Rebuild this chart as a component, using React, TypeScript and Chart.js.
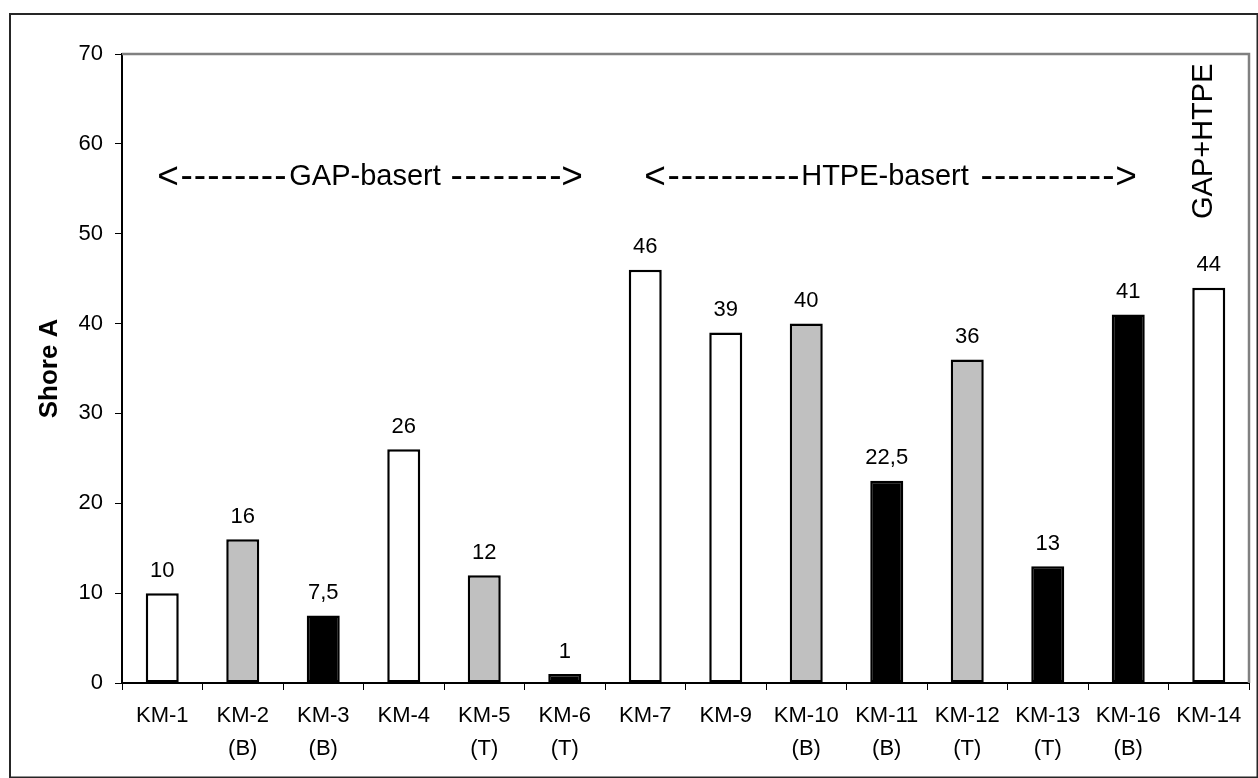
import React, { useEffect, useRef } from 'react';
import { Chart, registerables } from 'chart.js';

Chart.register(...registerables);

const categories: string[][] = [
  ['KM-1'], ['KM-2', '(B)'], ['KM-3', '(B)'], ['KM-4'], ['KM-5', '(T)'], ['KM-6', '(T)'],
  ['KM-7'], ['KM-9'], ['KM-10', '(B)'], ['KM-11', '(B)'], ['KM-12', '(T)'], ['KM-13', '(T)'],
  ['KM-16', '(B)'], ['KM-14'],
];
const shoreValues: number[] = [10, 16, 7.5, 26, 12, 1, 46, 39, 40, 22.5, 36, 13, 41, 44];
const valueLabels: string[] = ['10', '16', '7,5', '26', '12', '1', '46', '39', '40', '22,5', '36', '13', '41', '44'];
const barKinds: string[] = ['open', 'grey', 'solid', 'open', 'grey', 'solid', 'open', 'open', 'grey', 'solid', 'grey', 'solid', 'solid', 'open'];
const yTickValues: number[] = [0, 10, 20, 30, 40, 50, 60, 70];
const groupLabelGap = ['<', '--------', 'GAP-basert', '--------', '>'];
const groupLabelHtpe = ['<', '----------', 'HTPE-basert', '----------', '>'];
const sideLabel = 'GAP+HTPE';
const yTitle = 'Shore A';

const FONT = "'Liberation Sans', Arial, Helvetica, sans-serif";
const kindColor: Record<string, string> = { open: '#FFFFFF', grey: '#C0C0C0', solid: '#000000' };

export default function App() {
  const ref = useRef<HTMLCanvasElement | null>(null);

  useEffect(() => {
    const canvas = ref.current;
    if (!canvas) return;

    const bgPlugin = {
      id: 'bg',
      beforeDraw(chart: any) {
        const ctx = chart.ctx;
        ctx.save();
        ctx.fillStyle = '#FFFFFF';
        ctx.fillRect(0, 0, chart.width, chart.height);
        ctx.restore();
      },
    };

    const drawPieces = (ctx: any, pieces: string[], spans: number[][], baseline: number) => {
      pieces.forEach((txt, i) => {
        const [x0, x1] = spans[i];
        ctx.letterSpacing = '0px';
        if (/^-+$/.test(txt)) {
          ctx.font = `37px ${FONT}`;
          const adv = ctx.measureText('-').width;
          const ink = adv * 0.74;
          const n = txt.length;
          const sp = (x1 - x0 - ink) / (n - 1) - adv;
          ctx.letterSpacing = sp + 'px';
          ctx.textAlign = 'left';
          ctx.fillText(txt, x0 - adv * 0.13, baseline + 1.5);
          ctx.letterSpacing = '0px';
        } else if (txt === '<' || txt === '>') {
          ctx.font = `37px ${FONT}`;
          ctx.textAlign = 'center';
          ctx.fillText(txt, (x0 + x1) / 2, baseline + 2.5);
        } else {
          ctx.font = `29px ${FONT}`;
          ctx.textAlign = 'center';
          ctx.fillText(txt, (x0 + x1) / 2, baseline);
        }
      });
    };

    const annotPlugin = {
      id: 'annot',
      afterDatasetsDraw(chart: any) {
        const ctx = chart.ctx;
        const meta = chart.getDatasetMeta(0);
        ctx.save();
        ctx.fillStyle = '#000';
        ctx.font = `22px ${FONT}`;
        ctx.textAlign = 'center';
        ctx.textBaseline = 'alphabetic';
        meta.data.forEach((bar: any, i: number) => {
          ctx.fillText(valueLabels[i], bar.x, bar.y - 16.5);
        });
        ctx.restore();
      },
      afterDraw(chart: any) {
        const ctx = chart.ctx;
        const a = chart.chartArea;
        ctx.save();
        // plot frame top/right (grey)
        ctx.strokeStyle = '#808080';
        ctx.lineWidth = 2.5;
        ctx.beginPath();
        ctx.moveTo(a.left, a.top);
        ctx.lineTo(a.right, a.top);
        ctx.lineTo(a.right, a.bottom);
        ctx.stroke();
        // outer border
        ctx.strokeStyle = '#262626';
        ctx.lineWidth = 2;
        ctx.beginPath();
        ctx.moveTo(10, chart.height);
        ctx.lineTo(10, 14);
        ctx.lineTo(chart.width, 14);
        ctx.stroke();
        ctx.lineWidth = 1.5;
        ctx.beginPath();
        ctx.moveTo(chart.width - 0.75, 14);
        ctx.lineTo(chart.width - 0.75, chart.height - 0.75);
        ctx.lineTo(10, chart.height - 0.75);
        ctx.stroke();

        // group annotations
        ctx.fillStyle = '#000';
        ctx.textBaseline = 'alphabetic';
        drawPieces(ctx, groupLabelGap, [[158, 178], [182, 285], [286, 444], [452, 560], [562, 582]], 185);
        drawPieces(ctx, groupLabelHtpe, [[645, 665], [669, 798], [801, 969], [982, 1113], [1115, 1137]], 185);

        // rotated side label
        ctx.font = `29px ${FONT}`;
        ctx.save();
        ctx.translate(1212, 219);
        ctx.rotate(-Math.PI / 2);
        ctx.textAlign = 'left';
        ctx.fillText(sideLabel, 0, 0);
        ctx.restore();
        ctx.restore();
      },
    };

    const chart = new Chart(canvas, {
      type: 'bar',
      data: {
        labels: categories,
        datasets: [
          {
            data: shoreValues,
            backgroundColor: barKinds.map((k) => kindColor[k]),
            borderColor: '#000000',
            borderWidth: 2.5,
            borderSkipped: false,
            barPercentage: 0.41,
            categoryPercentage: 1,
          },
        ],
      },
      options: {
        responsive: false,
        animation: false,
        devicePixelRatio: 1,
        layout: { padding: { top: 54, right: 9, left: 0, bottom: 0 } },
        plugins: { legend: { display: false }, tooltip: { enabled: false }, title: { display: false } },
        scales: {
          x: {
            offset: true,
            grid: { display: true, offset: true, drawOnChartArea: false, drawTicks: true, tickLength: 7, tickColor: '#000', lineWidth: 1 },
            border: { display: true, color: '#000', width: 2 },
            ticks: {
              font: { family: FONT, size: 22, lineHeight: 1.5 },
              color: '#000',
              padding: 9,
              maxRotation: 0,
              minRotation: 0,
              autoSkip: false,
            },
            afterFit: (s: any) => { s.height = 95; },
          },
          y: {
            min: 0,
            max: 70,
            afterBuildTicks: (s: any) => { s.ticks = yTickValues.map((v) => ({ value: v })); },
            ticks: { font: { family: FONT, size: 22 }, color: '#000', padding: 12 },
            grid: { display: true, drawOnChartArea: false, drawTicks: true, tickLength: 7, tickColor: '#000', lineWidth: 1 },
            border: { display: true, color: '#000', width: 2 },
            title: {
              display: true,
              text: yTitle,
              color: '#000',
              font: { family: FONT, size: 26, weight: 'bold' },
              padding: { top: 34, bottom: 0 },
            },
            afterFit: (s: any) => { s.width = 122; },
          },
        },
      },
      plugins: [bgPlugin, annotPlugin],
    } as any);

    return () => chart.destroy();
  }, []);

  return (
    <div style={{ position: 'fixed', left: 0, top: 0, width: 1258, height: 778, background: '#fff' }}>
      <canvas ref={ref} width={1258} height={778} style={{ display: 'block', width: 1258, height: 778 }} />
    </div>
  );
}
